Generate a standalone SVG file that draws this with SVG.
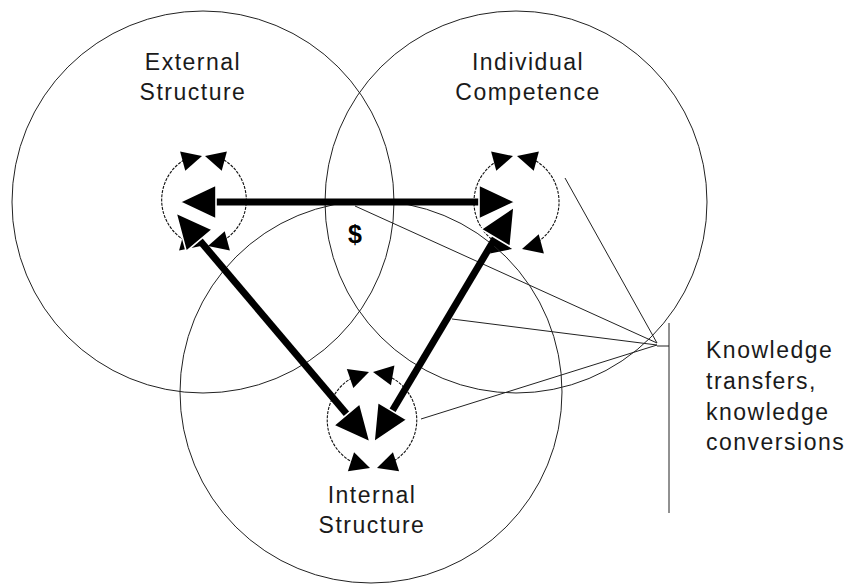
<svg xmlns="http://www.w3.org/2000/svg" xmlns:xlink="http://www.w3.org/1999/xlink" width="850" height="585" viewBox="0 0 850 585">
<style>
  .big { fill: none; stroke: #222; stroke-width: 1; }
  .loop { fill: none; stroke: #111; stroke-width: 1.1; stroke-dasharray: 3 1.2; }
  .thin { fill: none; stroke: #222; stroke-width: 1; }
  .thick { fill: none; stroke: #000; stroke-width: 7; }
  .ah { fill: #000; }
  .bah { fill: #000; stroke: #fff; stroke-width: 1.6; stroke-linejoin: miter; }
  .lbl { font-family: "Liberation Sans", Arial, sans-serif; font-size: 23px; letter-spacing: 1.5px; fill: #1a1a1a; }
  .mid { text-anchor: middle; }
  .dollar { font-family: "Liberation Sans", Arial, sans-serif; font-size: 25px; font-weight: bold; fill: #000; text-anchor: middle; }
</style>
<defs>
  <path id="ah" d="M0,0 L-20,-10 L-20,10 Z"/>
  <path id="bah" d="M0,0 L-36,-17 L-36,17 Z"/>
</defs>
<rect width="850" height="585" fill="#fff"/>

<g id="node-external">
  <circle class="big" cx="203" cy="202" r="191"/>
  <path class="loop" d="M184,160 A47,47 0 0 0 184,240"/>
  <path class="loop" d="M224,160 A47,47 0 0 1 224,240"/>
  <use xlink:href="#ah" class="ah" transform="translate(202,156) rotate(-15)"/>
  <use xlink:href="#ah" class="ah" transform="translate(205,156) rotate(195)"/>
  <use xlink:href="#ah" class="ah" transform="translate(201,246) rotate(15)"/>
  <use xlink:href="#ah" class="ah" transform="translate(208,246) rotate(165)"/>
  <text class="lbl mid" x="193" y="70">External</text>
  <text class="lbl mid" x="193" y="100">Structure</text>
</g>

<g id="node-individual">
  <circle class="big" cx="516" cy="202" r="191"/>
  <path class="loop" d="M497,161 A48,48 0 0 0 497,243"/>
  <path class="loop" d="M536,161 A48,48 0 0 1 536,243"/>
  <use xlink:href="#ah" class="ah" transform="translate(513,156) rotate(-15)"/>
  <use xlink:href="#ah" class="ah" transform="translate(517,156) rotate(195)"/>
  <use xlink:href="#ah" class="ah" transform="translate(512,249) rotate(15)"/>
  <use xlink:href="#ah" class="ah" transform="translate(522,249) rotate(165)"/>
  <text class="lbl mid" x="528" y="70">Individual</text>
  <text class="lbl mid" x="528" y="100">Competence</text>
</g>

<g id="node-internal">
  <circle class="big" cx="371" cy="392" r="191"/>
  <path class="loop" d="M352,378 A48,48 0 0 0 352,462"/>
  <path class="loop" d="M392,378 A48,48 0 0 1 392,462"/>
  <use xlink:href="#ah" class="ah" transform="translate(369,372) rotate(-19)"/>
  <use xlink:href="#ah" class="ah" transform="translate(373,372) rotate(190)"/>
  <use xlink:href="#ah" class="ah" transform="translate(370,468) rotate(18)"/>
  <use xlink:href="#ah" class="ah" transform="translate(377,468) rotate(162)"/>
  <text class="lbl mid" x="372" y="503">Internal</text>
  <text class="lbl mid" x="372" y="533">Structure</text>
</g>

<g id="connectors">
  <line class="thin" x1="565" y1="178" x2="657" y2="343"/>
  <line class="thin" x1="355" y1="206" x2="657" y2="343"/>
  <line class="thin" x1="452" y1="319" x2="657" y2="345"/>
  <line class="thin" x1="421" y1="419" x2="657" y2="345"/>
  <line class="thin" x1="657" y1="346" x2="669" y2="346"/>
  <line class="thick" x1="205" y1="202" x2="490" y2="202"/>
  <line class="thick" x1="190" y1="229" x2="356" y2="425"/>
  <line class="thick" x1="500" y1="230" x2="388" y2="418"/>
  <use xlink:href="#bah" class="bah" transform="translate(176,213) rotate(-130.2)"/>
  <use xlink:href="#bah" class="bah" transform="translate(180,202) rotate(180)"/>
  <use xlink:href="#bah" class="bah" transform="translate(514,207) rotate(-59.3)"/>
  <use xlink:href="#bah" class="bah" transform="translate(515,202) rotate(0)"/>
  <use xlink:href="#bah" class="bah" transform="translate(370,442) rotate(49.8)"/>
  <use xlink:href="#bah" class="bah" transform="translate(374,442) rotate(120.7)"/>
</g>

<g id="dollar">
  <text class="dollar" x="355" y="243">$</text>
</g>

<g id="node-knowledge">
  <line class="thin" x1="669" y1="323" x2="669" y2="513"/>
  <text class="lbl" x="706" y="358">Knowledge</text>
  <text class="lbl" x="706" y="389">transfers,</text>
  <text class="lbl" x="706" y="420">knowledge</text>
  <text class="lbl" x="706" y="450">conversions</text>
</g>
</svg>
